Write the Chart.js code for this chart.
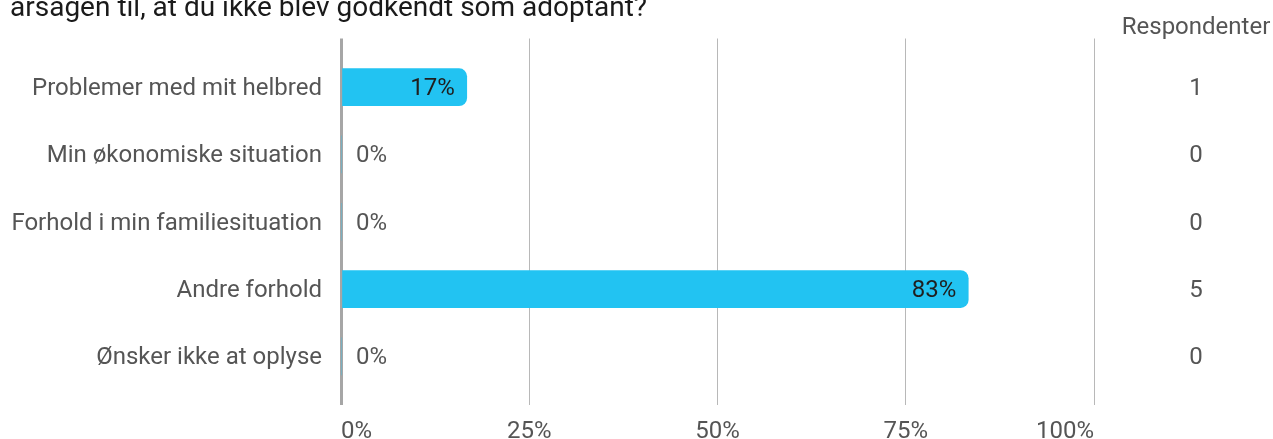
<!DOCTYPE html>
<html>
<head>
<meta charset="utf-8">
<script src="https://cdn.jsdelivr.net/npm/chart.js@4/dist/chart.umd.min.js"></script>
<style>
  html, body { margin: 0; padding: 0; background: #ffffff; overflow: hidden; }
  #wrap { position: relative; width: 1273px; height: 439px; overflow: hidden; }
  #title { position: absolute; left: 10px; top: -7px; margin: 0; font-family: Roboto, sans-serif; font-size: 28px; font-weight: 400; color: #1a1a1a; white-space: nowrap; line-height: 28px; z-index: 2; }
  canvas { position: absolute; left: 0; top: 0; }
</style>
</head>
<body>
<div id="wrap">
  <canvas id="c" width="1273" height="439"></canvas>
  <p id="title">årsagen til, at du ikke blev godkendt som adoptant?</p>
</div>
<script>
const categories = ["Problemer med mit helbred", "Min økonomiske situation", "Forhold i min familiesituation", "Andre forhold", "Ønsker ikke at oplyse"];
const percentValues = [16.7, 0, 0, 83.3, 0];
const percentLabels = ["17%", "0%", "0%", "83%", "0%"];
const respondents = ["1", "0", "0", "5", "0"];
const columnHeader = "Respondenter";
const xTicks = [0, 25, 50, 75, 100];

const FONT = "Roboto, 'Noto Sans', sans-serif";
const GRID = "#b8b8b8";
const AXIS = "#a6a6a6";
const TEXT = "#555555";

const gridWidth = (ctx) => (ctx.tick && ctx.tick.value === 0 ? 3 : 1);
const gridColor = (ctx) => (ctx.tick && ctx.tick.value === 0 ? AXIS : GRID);

const labelPlugin = {
  id: 'barLabels',
  afterDatasetsDraw(chart) {
    const ctx = chart.ctx;
    const meta = chart.getDatasetMeta(0);
    const yScale = chart.scales.y;
    const colX = chart.chartArea.right + 102;
    ctx.save();
    ctx.font = "24px " + FONT;
    ctx.textBaseline = 'middle';
    meta.data.forEach((bar, i) => {
      const v = percentValues[i];
      if (v > 5) {
        ctx.fillStyle = '#1f1f1f';
        ctx.textAlign = 'right';
        ctx.fillText(percentLabels[i], bar.x - 12, bar.y + 2);
      } else {
        ctx.fillStyle = TEXT;
        ctx.textAlign = 'left';
        ctx.fillText(percentLabels[i], bar.base + 15, bar.y + 2);
      }
    });
    // respondent column, positioned by the category scale
    ctx.fillStyle = TEXT;
    ctx.textAlign = 'center';
    respondents.forEach((r, i) => {
      ctx.fillText(r, colX, yScale.getPixelForValue(i) + 2);
    });
    ctx.fillText(columnHeader, colX, 28);
    ctx.restore();
  }
};

new Chart(document.getElementById('c'), {
  type: 'bar',
  data: {
    labels: categories,
    datasets: [{
      data: percentValues,
      backgroundColor: '#22c3f2',
      borderWidth: 0,
      borderRadius: 8,
      borderSkipped: 'start',
      barThickness: 37,
      yAxisID: 'y'
    }]
  },
  options: {
    indexAxis: 'y',
    responsive: false,
    animation: false,
    maintainAspectRatio: false,
    layout: { padding: { top: 38.5, left: 0, right: 179, bottom: 0 } },
    plugins: { legend: { display: false }, tooltip: { enabled: false }, title: { display: false } },
    scales: {
      x: {
        position: 'bottom',
        min: 0, max: 100,
        afterBuildTicks: (s) => { s.ticks = xTicks.map(v => ({ value: v })); },
        afterFit: (s) => { s.height = 49; },
        grid: { color: gridColor, lineWidth: gridWidth, drawTicks: true, tickLength: 15, tickColor: gridColor, tickWidth: gridWidth },
        border: { display: false },
        ticks: { padding: 13, align: 'inner', maxRotation: 0, color: TEXT, font: { family: FONT, size: 24 }, callback: (v) => v + '%' }
      },
      x2: {
        position: 'top',
        min: 0, max: 100,
        afterBuildTicks: (s) => { s.ticks = xTicks.map(v => ({ value: v })); },
        afterFit: (s) => { s.height = 15; },
        grid: { color: gridColor, lineWidth: gridWidth, drawTicks: true, tickLength: 15, tickColor: gridColor, tickWidth: gridWidth, drawOnChartArea: false },
        border: { display: false },
        ticks: { display: false }
      },
      y: {
        position: 'left',
        afterFit: (s) => { s.width = 341; },
        grid: { display: false },
        border: { display: false },
        ticks: { padding: 11, labelOffset: 2, color: TEXT, font: { family: FONT, size: 24 } }
      }
    }
  },
  plugins: [labelPlugin]
});
</script>
</body>
</html>
